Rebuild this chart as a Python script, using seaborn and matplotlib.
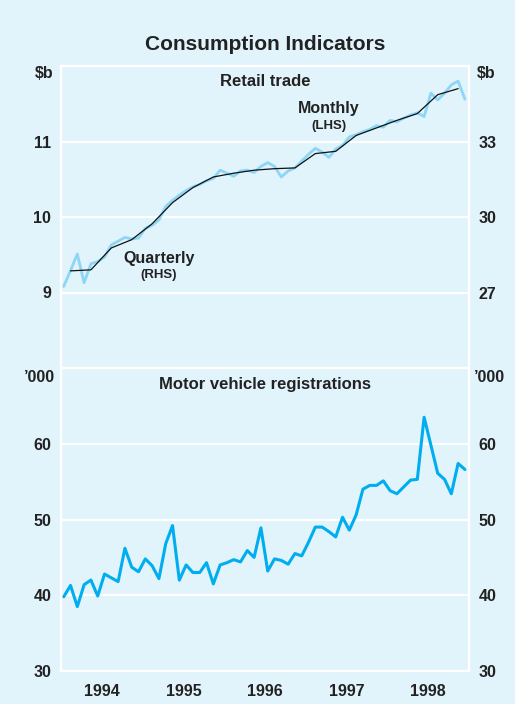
import numpy as np
import pandas as pd
import matplotlib
matplotlib.use("Agg")
import matplotlib.pyplot as plt
import seaborn as sns

# ---------------- data ----------------
months = pd.date_range("1994-01-01", periods=60, freq="MS")
retail_monthly = [9.08, 9.29, 9.51, 9.13, 9.38, 9.41, 9.47, 9.63, 9.68, 9.73,
                  9.71, 9.72, 9.85, 9.89, 9.96, 10.14, 10.22, 10.29, 10.35, 10.40,
                  10.43, 10.48, 10.51, 10.62, 10.58, 10.54, 10.61, 10.62, 10.59, 10.67,
                  10.72, 10.67, 10.53, 10.61, 10.65, 10.74, 10.83, 10.91, 10.86, 10.79,
                  10.90, 10.95, 11.06, 11.09, 11.13, 11.16, 11.21, 11.19, 11.28, 11.26,
                  11.31, 11.35, 11.38, 11.33, 11.64, 11.55, 11.64, 11.75, 11.80, 11.56]

quarters = pd.date_range("1994-02-01", periods=20, freq="3MS")
retail_quarterly = [27.86, 27.90, 28.77, 29.10, 29.73, 30.57, 31.17, 31.59, 31.74, 31.86,
                    31.92, 31.95, 32.52, 32.61, 33.24, 33.54, 33.84, 34.11, 34.86, 35.10]

motor_vehicles = [39.8, 41.3, 38.5, 41.4, 42.0, 39.9, 42.8, 42.3, 41.8, 46.2,
                  43.7, 43.1, 44.8, 43.9, 42.2, 46.8, 49.2, 42.0, 44.0, 43.0,
                  43.0, 44.3, 41.5, 44.0, 44.3, 44.7, 44.4, 45.9, 45.0, 48.9,
                  43.2, 44.8, 44.6, 44.1, 45.5, 45.2, 47.0, 49.0, 49.0, 48.4,
                  47.7, 50.3, 48.6, 50.6, 54.0, 54.5, 54.5, 55.1, 53.8, 53.4,
                  54.3, 55.2, 55.3, 63.5, 59.8, 56.1, 55.3, 53.4, 57.4, 56.6]

years = [1994, 1995, 1996, 1997, 1998]
lhs_ticks_top = [9, 10, 11]
rhs_ticks_top = [27, 30, 33]
ticks_bottom = [30, 40, 50, 60]


def dec_year(dates):
    return np.array([d.year + (d.month - 1 + 0.4) / 12 for d in dates])


# ---------------- style ----------------
BG = "#E1F3FB"
TXT = "#222222"
sns.set_style("white", {"axes.facecolor": BG, "figure.facecolor": BG})
plt.rcParams["font.family"] = ["Liberation Sans", "DejaVu Sans"]
plt.rcParams["font.weight"] = "bold"

W, H = 515, 704
fig = plt.figure(figsize=(W / 100, H / 100), dpi=100, facecolor=BG)


def px(x, y):
    return x / W, 1 - y / H


L, R = 61, 469
ax1 = fig.add_axes([L / W, 1 - 368 / H, (R - L) / W, (368 - 66) / H])
ax2 = fig.add_axes([L / W, 1 - 671 / H, (R - L) / W, (671 - 368) / H])

for ax in (ax1, ax2):
    ax.set_facecolor(BG)
    ax.set_axisbelow(True)
    for s in ax.spines.values():
        s.set_color("white")
        s.set_linewidth(1.6)
    ax.set_xlim(1994, 1999)
    ax.yaxis.grid(True, color="white", lw=1.6)
    ax.xaxis.grid(False)

# top panel
sns.lineplot(x=dec_year(months), y=retail_monthly, ax=ax1, color="#8DD6F6", lw=2.0)
ax1.set_ylim(8, 12)
ax1.set_yticks(lhs_ticks_top)
ax1.set_xticks([])
ax1r = ax1.twinx()
sns.lineplot(x=dec_year(quarters), y=retail_quarterly, ax=ax1r, color="#111111", lw=0.9)
ax1r.set_ylim(24, 36)
ax1r.set_yticks(rhs_ticks_top)
for s in ax1r.spines.values():
    s.set_color("white")
    s.set_linewidth(1.6)
ax1r.set_xlim(1994, 1999)

# bottom panel
sns.lineplot(x=dec_year(months), y=motor_vehicles, ax=ax2, color="#00AEEF", lw=2.2)
ax2.set_ylim(30, 70)
ax2.set_yticks(ticks_bottom)
ax2r = ax2.twinx()
ax2r.set_ylim(30, 70)
ax2r.set_yticks(ticks_bottom)
for s in ax2r.spines.values():
    s.set_color("white")
    s.set_linewidth(1.6)
ax2.set_xticks([y + 1 for y in years[:-1]])
ax2.set_xticklabels([])
ax2.tick_params(axis="x", direction="in", length=9, width=1.6, color="white")
ax2.set_xticks([y + 0.5 for y in years], minor=True)
ax2.set_xticklabels([str(y) for y in years], minor=True)
ax2.tick_params(axis="x", which="minor", length=0, pad=9, labelsize=11.5,
                labelcolor=TXT)

for ax in (ax1, ax2, ax1r, ax2r):
    ax.set_xlabel("")
    ax.set_ylabel("")
    ax.tick_params(axis="y", length=0, pad=7, labelsize=11.5, labelcolor=TXT)
    for lab in ax.get_yticklabels() + ax.get_xticklabels(minor=True):
        lab.set_fontweight("bold")

# ---------------- text ----------------
fig.text(*px(265, 45), "Consumption Indicators", ha="center", va="center",
         fontsize=15, fontweight="bold", color=TXT)
fig.text(*px(265, 82), "Retail trade", ha="center", va="center",
         fontsize=12, fontweight="bold", color=TXT)
fig.text(*px(265, 385), "Motor vehicle registrations", ha="center", va="center",
         fontsize=12, fontweight="bold", color=TXT)
fig.text(*px(329, 109), "Monthly", ha="center", va="center",
         fontsize=11.5, fontweight="bold", color=TXT)
fig.text(*px(329, 126), "(LHS)", ha="center", va="center",
         fontsize=9.5, fontweight="bold", color=TXT)
fig.text(*px(159, 259), "Quarterly", ha="center", va="center",
         fontsize=11.5, fontweight="bold", color=TXT)
fig.text(*px(159, 275), "(RHS)", ha="center", va="center",
         fontsize=9.5, fontweight="bold", color=TXT)
fig.text(*px(53, 73), "$b", ha="right", va="center",
         fontsize=11.5, fontweight="bold", color=TXT)
fig.text(*px(477, 73), "$b", ha="left", va="center",
         fontsize=11.5, fontweight="bold", color=TXT)
fig.text(*px(55, 377), "\u2019000", ha="right", va="center",
         fontsize=11.5, fontweight="bold", color=TXT)
fig.text(*px(474, 377), "\u2019000", ha="left", va="center",
         fontsize=11.5, fontweight="bold", color=TXT)

fig.savefig("out.png", dpi=100, facecolor=BG)
